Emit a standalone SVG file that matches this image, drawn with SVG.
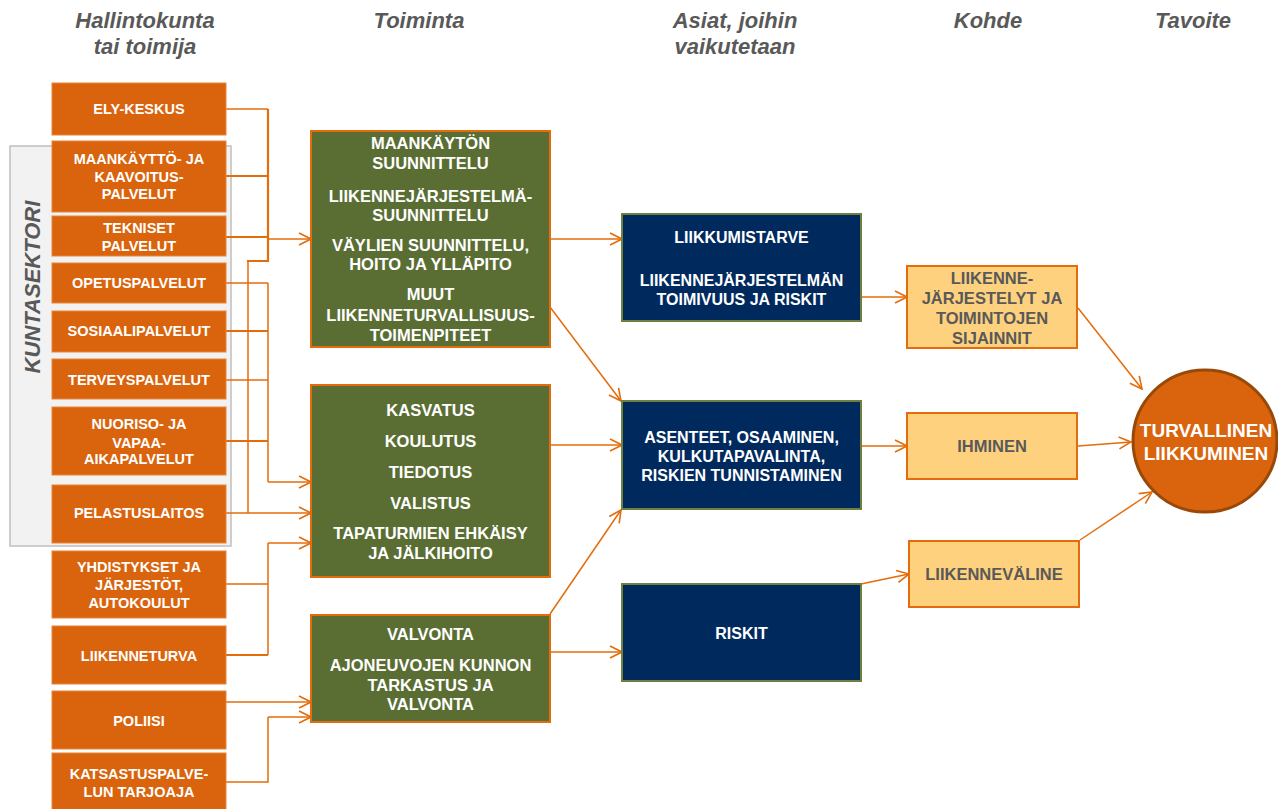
<svg xmlns="http://www.w3.org/2000/svg" width="1278" height="809" viewBox="0 0 1278 809">
<defs>
<marker id="ah" markerUnits="userSpaceOnUse" markerWidth="14" markerHeight="14" viewBox="0 0 14 14" refX="13" refY="7" orient="auto">
<path d="M1,1 L13,7 L1,13" fill="none" stroke="#e46c0a" stroke-width="1.6"/>
</marker>
<style>
.hd{font-family:"Liberation Sans",Arial,sans-serif;font-weight:bold;font-style:italic;font-size:22px;fill:#595959;text-anchor:middle}
.ob{fill:#d9640d;stroke:#e8843a;stroke-width:1}
.gb{fill:#5a6e34;stroke:#e46c0a;stroke-width:2}
.nb{fill:#002a5e;stroke:#6e8040;stroke-width:2}
.yb{fill:#fdd17e;stroke:#e46c0a;stroke-width:2}
.wt{font-family:"Liberation Sans",Arial,sans-serif;font-weight:bold;font-size:16.5px;fill:#fff;text-anchor:middle}
.wn{font-family:"Liberation Sans",Arial,sans-serif;font-weight:bold;font-size:16px;fill:#fff;text-anchor:middle}
.ws{font-family:"Liberation Sans",Arial,sans-serif;font-weight:bold;font-size:14.5px;fill:#fff;text-anchor:middle}
.wc{font-family:"Liberation Sans",Arial,sans-serif;font-weight:bold;font-size:19px;fill:#fff;text-anchor:middle}
.gt{font-family:"Liberation Sans",Arial,sans-serif;font-weight:bold;font-size:16.5px;fill:#595959;text-anchor:middle}
.c{fill:none;stroke:#e46c0a;stroke-width:1.5}
.cb{fill:none;stroke:#e46c0a;stroke-width:2.2}
.ca{fill:none;stroke:#e46c0a;stroke-width:1.5;marker-end:url(#ah)}
</style>
</defs>
<rect width="1278" height="809" fill="#fff"/>

<g id="headers">
<text class="hd" x="145" y="28">Hallintokunta</text>
<text class="hd" x="145" y="54">tai toimija</text>
<text class="hd" x="419" y="28">Toiminta</text>
<text class="hd" x="735" y="28">Asiat, joihin</text>
<text class="hd" x="735" y="54">vaikutetaan</text>
<text class="hd" x="988" y="28">Kohde</text>
<text class="hd" x="1193" y="28">Tavoite</text>
</g>

<g id="kuntasektori">
<rect x="10" y="146" width="221" height="400" fill="#f2f2f2" stroke="#bfbfbf" stroke-width="1.5"/>
<text class="hd" transform="translate(40,287) rotate(-90)">KUNTASEKTORI</text>
</g>

<g id="connectors">
<path class="c" d="M226,109 H268"/>
<path class="cb" d="M226,176 H268"/>
<path class="cb" d="M226,237 H268"/>
<path class="cb" d="M268,109 V261 H247"/>
<path class="ca" d="M268,239 H311"/>
<path class="c" d="M248,261 V513"/>
<path class="c" d="M226,513 H248"/>
<path class="ca" d="M248,513 H311"/>
<path class="c" d="M226,283 H268"/>
<path class="cb" d="M226,331 H268"/>
<path class="c" d="M226,380 H268"/>
<path class="cb" d="M226,441 H268"/>
<path class="c" d="M268,283 V482"/>
<path class="ca" d="M268,482 H311"/>
<path class="c" d="M226,584 H268"/>
<path class="cb" d="M226,655 H268"/>
<path class="c" d="M268,655 V543"/>
<path class="ca" d="M268,543 H311"/>
<path class="ca" d="M226,702 H311"/>
<path class="c" d="M226,782 H268 V717"/>
<path class="ca" d="M268,717 H311"/>
<path class="ca" d="M550,239 H622"/>
<path class="ca" d="M550,307 L621,401"/>
<path class="ca" d="M550,445 H622"/>
<path class="ca" d="M550,614 L621,510"/>
<path class="ca" d="M550,652 H622"/>
<path class="ca" d="M861,297 H907"/>
<path class="ca" d="M861,446 H907"/>
<path class="ca" d="M861,584 L909,574"/>
<path class="ca" d="M1078,308 L1142,389"/>
<path class="ca" d="M1078,446 L1131,442"/>
<path class="ca" d="M1080,540 L1152,492"/>
</g>

<g id="n-ely"><rect class="ob" x="52" y="83" width="174" height="52"/><text class="ws" x="139" y="114">ELY-KESKUS</text></g>
<g id="n-maankaytto"><rect class="ob" x="52" y="141" width="174" height="71"/><text class="ws" x="139" y="164">MAANKÄYTTÖ- JA</text><text class="ws" x="139" y="182">KAAVOITUS-</text><text class="ws" x="139" y="199">PALVELUT</text></g>
<g id="n-tekniset"><rect class="ob" x="52" y="216" width="174" height="40"/><text class="ws" x="139" y="233">TEKNISET</text><text class="ws" x="139" y="251">PALVELUT</text></g>
<g id="n-opetus"><rect class="ob" x="52" y="263" width="174" height="40"/><text class="ws" x="139" y="288">OPETUSPALVELUT</text></g>
<g id="n-sosiaali"><rect class="ob" x="52" y="311" width="174" height="41"/><text class="ws" x="139" y="336">SOSIAALIPALVELUT</text></g>
<g id="n-terveys"><rect class="ob" x="52" y="359" width="174" height="40"/><text class="ws" x="139" y="385">TERVEYSPALVELUT</text></g>
<g id="n-nuoriso"><rect class="ob" x="52" y="407" width="174" height="68"/><text class="ws" x="139" y="429">NUORISO- JA</text><text class="ws" x="139" y="448">VAPAA-</text><text class="ws" x="139" y="464">AIKAPALVELUT</text></g>
<g id="n-pelastus"><rect class="ob" x="52" y="485" width="174" height="58"/><text class="ws" x="139" y="518">PELASTUSLAITOS</text></g>
<g id="n-yhdistykset"><rect class="ob" x="52" y="551" width="174" height="67"/><text class="ws" x="139" y="572">YHDISTYKSET JA</text><text class="ws" x="139" y="590">JÄRJESTÖT,</text><text class="ws" x="139" y="608">AUTOKOULUT</text></g>
<g id="n-liikenneturva"><rect class="ob" x="52" y="626" width="174" height="58"/><text class="ws" x="139" y="661">LIIKENNETURVA</text></g>
<g id="n-poliisi"><rect class="ob" x="52" y="691" width="174" height="58"/><text class="ws" x="139" y="726">POLIISI</text></g>
<g id="n-katsastus"><rect class="ob" x="52" y="753" width="174" height="58"/><text class="ws" x="139" y="779">KATSASTUSPALVE-</text><text class="ws" x="139" y="797">LUN TARJOAJA</text></g>

<g id="n-suunnittelu"><rect class="gb" x="311" y="131" width="239" height="216"/>
<text class="wt" x="430.5" y="149">MAANKÄYTÖN</text><text class="wt" x="430.5" y="169">SUUNNITTELU</text>
<text class="wt" x="430.5" y="202">LIIKENNEJÄRJESTELMÄ-</text><text class="wt" x="430.5" y="221">SUUNNITTELU</text>
<text class="wt" x="430.5" y="251">VÄYLIEN SUUNNITTELU,</text><text class="wt" x="430.5" y="270">HOITO JA YLLÄPITO</text>
<text class="wt" x="430.5" y="300">MUUT</text><text class="wt" x="430.5" y="321">LIIKENNETURVALLISUUS-</text><text class="wt" x="430.5" y="341">TOIMENPITEET</text></g>
<g id="n-kasvatus"><rect class="gb" x="311" y="385" width="239" height="192"/>
<text class="wt" x="430.5" y="416">KASVATUS</text><text class="wt" x="430.5" y="447">KOULUTUS</text>
<text class="wt" x="430.5" y="478">TIEDOTUS</text><text class="wt" x="430.5" y="509">VALISTUS</text>
<text class="wt" x="430.5" y="539">TAPATURMIEN EHKÄISY</text><text class="wt" x="430.5" y="559">JA JÄLKIHOITO</text></g>
<g id="n-valvonta"><rect class="gb" x="311" y="615" width="239" height="107"/>
<text class="wt" x="430.5" y="640">VALVONTA</text><text class="wt" x="430.5" y="671">AJONEUVOJEN KUNNON</text>
<text class="wt" x="430.5" y="691">TARKASTUS JA</text><text class="wt" x="430.5" y="710">VALVONTA</text></g>

<g id="n-liikkumistarve"><rect class="nb" x="622" y="214" width="239" height="107"/>
<text class="wn" x="741.5" y="243">LIIKKUMISTARVE</text><text class="wn" x="741.5" y="286">LIIKENNEJÄRJESTELMÄN</text><text class="wn" x="741.5" y="305">TOIMIVUUS JA RISKIT</text></g>
<g id="n-asenteet"><rect class="nb" x="622" y="401" width="239" height="108"/>
<text class="wn" x="741.5" y="443">ASENTEET, OSAAMINEN,</text><text class="wn" x="741.5" y="462">KULKUTAPAVALINTA,</text><text class="wn" x="741.5" y="481">RISKIEN TUNNISTAMINEN</text></g>
<g id="n-riskit"><rect class="nb" x="622" y="584" width="239" height="97"/>
<text class="wn" x="741.5" y="639">RISKIT</text></g>

<g id="n-jarjestelyt"><rect class="yb" x="907" y="266" width="170" height="82"/>
<text class="gt" x="992" y="284">LIIKENNE-</text><text class="gt" x="992" y="304">JÄRJESTELYT JA</text><text class="gt" x="992" y="324">TOIMINTOJEN</text><text class="gt" x="992" y="344">SIJAINNIT</text></g>
<g id="n-ihminen"><rect class="yb" x="907" y="413" width="170" height="66"/>
<text class="gt" x="992" y="452">IHMINEN</text></g>
<g id="n-liikennevaline"><rect class="yb" x="909" y="541" width="170" height="66"/>
<text class="gt" x="994" y="580">LIIKENNEVÄLINE</text></g>

<g id="n-tavoite"><ellipse cx="1205" cy="441" rx="72" ry="71" fill="#d9640d" stroke="#984807" stroke-width="3"/>
<text class="wc" x="1206" y="437">TURVALLINEN</text><text class="wc" x="1206" y="460">LIIKKUMINEN</text></g>
</svg>
